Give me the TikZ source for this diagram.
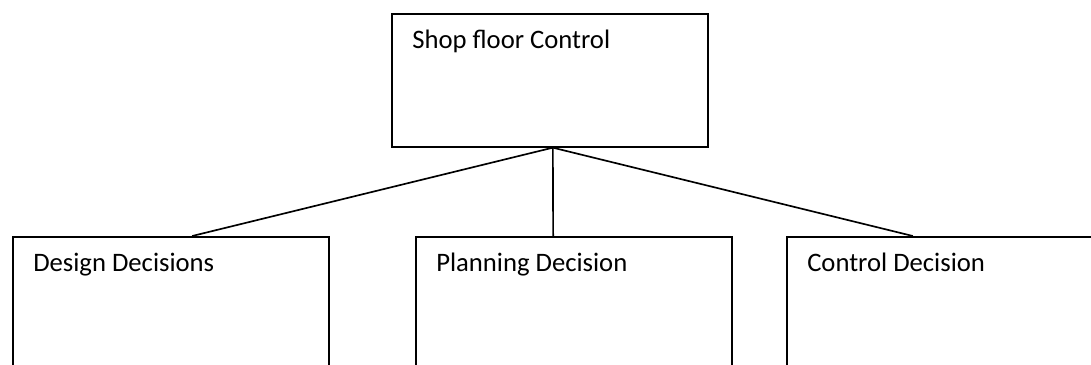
\documentclass[tikz,border=0pt]{standalone}
\usepackage{fontspec}
\setmainfont{Carlito}
\usetikzlibrary{positioning, calc}

\begin{document}
\begin{tikzpicture}[x=0.75pt, y=-0.75pt,
    decbox/.style={draw, line width=1.25pt, anchor=north west, inner sep=0pt,
                   minimum width=237pt, minimum height=99.75pt},
    boxtitle/.style={inner sep=0pt, font=\fontsize{20}{24}\selectfont},
    link/.style={line width=1.25pt}]
    \useasboundingbox (0,0) rectangle (1091,364);

    % top box
    \node[decbox] (shop) at (391,13) {};
    \node[boxtitle, below right=12.5pt and 15.75pt of shop.north west] (shoptxt) {Shop floor Control};

    % the three decisions
    \node[decbox] (design) at (12,236) {};
    \node[decbox] (planning) at (415,236) {};
    \node[decbox, minimum width=260pt] (control) at (786,236) {};
    \node[boxtitle, below right=12.5pt and 15.75pt of design.north west] (designtxt) {Design Decisions};
    \node[boxtitle, below right=12.5pt and 15.75pt of planning.north west] (planningtxt) {Planning Decision};
    \node[boxtitle, below right=12.5pt and 15.75pt of control.north west] (controltxt) {Control Decision};

    \draw[link] ([xshift=2.25pt]shop.south) -- ([xshift=16pt]design.north);
    \draw[link] ([xshift=2.25pt]shop.south) -- ([xshift=-15.5pt]planning.north);
    \draw[link] ([xshift=2.25pt]shop.south) -- ([xshift=-35.5pt]control.north);
\end{tikzpicture}
\end{document}
